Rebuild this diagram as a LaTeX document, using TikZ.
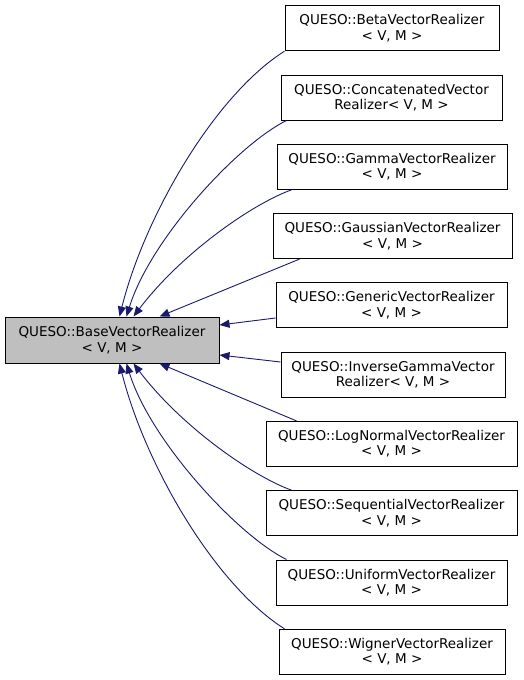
\documentclass[tikz,border=0pt]{standalone}
\usepackage{fontspec}
\setmainfont{DejaVu Sans}
\usetikzlibrary{arrows.meta}
\definecolor{edgeblue}{RGB}{25,25,112}
\definecolor{basegray}{RGB}{191,191,191}
\begin{document}
\begin{tikzpicture}[x=1pt,y=-1pt,
  box/.style={draw=black, line width=1pt, fill=white, minimum height=45pt, inner sep=0pt, align=center,
    font=\fontsize{13.5}{15.5}\selectfont},
  edge/.style={draw=edgeblue, line width=0.9pt, -{Triangle[length=10pt,width=8pt]}}]
\useasboundingbox (0,0) rectangle (523,680);
\node[box, fill=basegray, minimum width=214pt, minimum height=46pt] (base) at (112,340) {QUESO::BaseVectorRealizer\\{}< V, M >};
\node[box, minimum width=214pt] (beta) at (392,28.2) {QUESO::BetaVectorRealizer\\{}< V, M >};
\node[box, minimum width=221pt] (conc) at (391.5,97.5) {QUESO::ConcatenatedVector\\Realizer< V, M >};
\node[box, minimum width=230pt] (gamma) at (392,166.8) {QUESO::GammaVectorRealizer\\{}< V, M >};
\node[box, minimum width=239pt] (gauss) at (392.5,236.1) {QUESO::GaussianVectorRealizer\\{}< V, M >};
\node[box, minimum width=231pt] (generic) at (391.5,305.4) {QUESO::GenericVectorRealizer\\{}< V, M >};
\node[box, minimum width=224pt] (invg) at (393,374.6) {QUESO::InverseGammaVector\\Realizer< V, M >};
\node[box, minimum width=251pt] (lognorm) at (391.5,443.9) {QUESO::LogNormalVectorRealizer\\{}< V, M >};
\node[box, minimum width=251pt] (seq) at (391.5,513.2) {QUESO::SequentialVectorRealizer\\{}< V, M >};
\node[box, minimum width=231pt] (unif) at (391.5,582.5) {QUESO::UniformVectorRealizer\\{}< V, M >};
\node[box, minimum width=226pt] (wigner) at (392,651.8) {QUESO::WignerVectorRealizer\\{}< V, M >};
% upper edges
\draw[edge] (beta.south west) .. controls (215,95) and (145,215) .. ([xshift=115pt]base.north west);
\draw[edge] ([xshift=6pt]conc.south west) .. controls (237,145) and (150,240) .. ([xshift=122pt]base.north west);
\draw[edge] ([xshift=15pt]gamma.south west) .. controls (250,205) and (180,255) .. ([xshift=129pt]base.north west);
\draw[edge] ([xshift=27pt]gauss.south west) -- ([xshift=155pt]base.north west);
\draw[edge] ([yshift=-12.6pt]generic.west) -- ([yshift=15pt]base.east);
% lower edges
\draw[edge] ([yshift=12.6pt]invg.west) -- ([yshift=-15pt]base.east);
\draw[edge] ([xshift=31pt]lognorm.north west) -- ([xshift=155pt]base.south west);
\draw[edge] ([xshift=26pt]seq.north west) .. controls (250,475) and (180,425) .. ([xshift=129pt]base.south west);
\draw[edge] ([xshift=11pt]unif.north west) .. controls (237,535) and (150,440) .. ([xshift=122pt]base.south west);
\draw[edge] ([xshift=6pt]wigner.north west) .. controls (215,585) and (145,465) .. ([xshift=115pt]base.south west);
\end{tikzpicture}
\end{document}
